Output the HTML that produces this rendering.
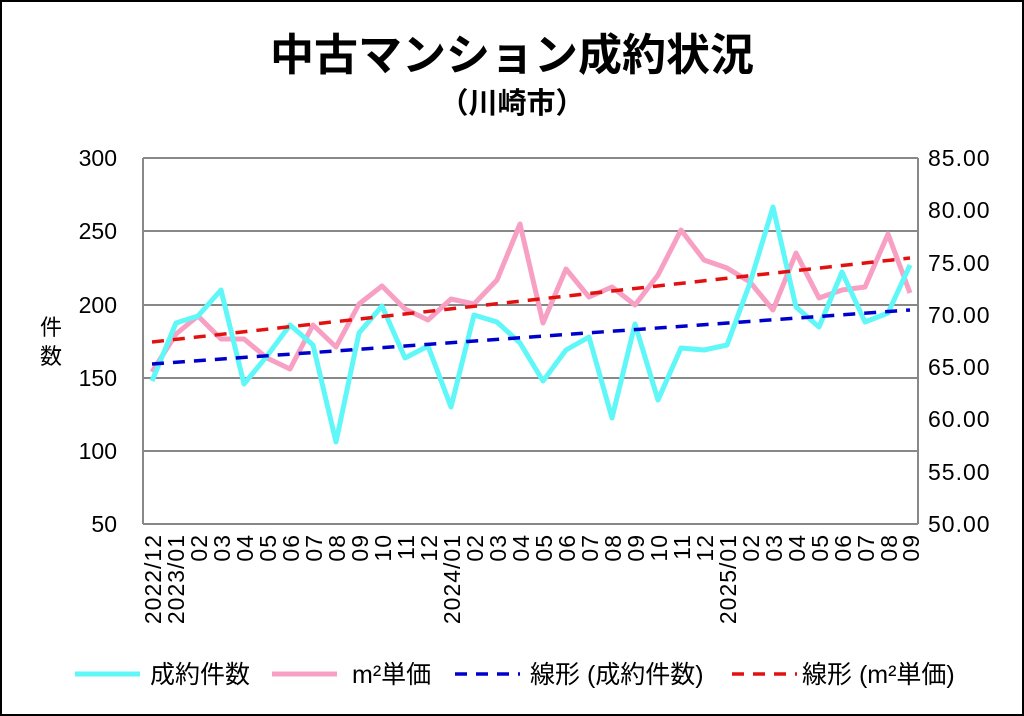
<!DOCTYPE html><html><head><meta charset="utf-8"><style>body{margin:0;background:#fff}svg{display:block}text{font-family:"Liberation Sans","Noto Sans CJK JP",sans-serif}</style></head><body>
<svg width="1024" height="716" viewBox="0 0 1024 716">
<rect x="1" y="1" width="1022" height="714" fill="#fff" stroke="#000" stroke-width="2"/>
<text x="512" y="70" text-anchor="middle" font-size="44" font-weight="bold" font-family="Noto Sans CJK JP">中古マンション成約状況</text>
<text x="512" y="113" text-anchor="middle" font-size="29" font-weight="bold" font-family="Noto Sans CJK JP">（川崎市）</text>
<g stroke="#888" stroke-width="2">
<line x1="143" y1="158" x2="918" y2="158"/><line x1="143" y1="231" x2="918" y2="231"/><line x1="143" y1="305" x2="918" y2="305"/><line x1="143" y1="378" x2="918" y2="378"/><line x1="143" y1="451" x2="918" y2="451"/><line x1="143" y1="524" x2="918" y2="524"/>
<line x1="143" y1="158" x2="143" y2="524"/><line x1="918" y1="158" x2="918" y2="524"/>
</g>
<g font-size="23" text-anchor="end"><text x="117" y="166">300</text><text x="117" y="239">250</text><text x="117" y="313">200</text><text x="117" y="386">150</text><text x="117" y="459">100</text><text x="117" y="532">50</text></g>
<g font-size="23" letter-spacing="1"><text x="928" y="166">85.00</text><text x="928" y="218">80.00</text><text x="928" y="271">75.00</text><text x="928" y="323">70.00</text><text x="928" y="375">65.00</text><text x="928" y="427">60.00</text><text x="928" y="480">55.00</text><text x="928" y="532">50.00</text></g>
<text x="40" y="335" font-size="22" font-family="Noto Sans CJK JP">件</text><text x="40" y="364" font-size="22" font-family="Noto Sans CJK JP">数</text>
<polyline fill="none" stroke="#f7a0c4" stroke-width="5" stroke-linejoin="round" points="152,372 176,334 198,316 221,339 244,339 267,358 290,369 313,325 336,347 359,304 382,286 405,309 428,320 451,299 474,304 497,280 520,224 543,323 566,269 589,297 612,287 635,305 658,275 681,230 704,260 727,268 750,282 773,310 796,253 819,298 842,290 865,287 888,234 910,293"/>
<polyline fill="none" stroke="#5ff7f7" stroke-width="5" stroke-linejoin="round" points="152,381 176,323 198,316 221,290 244,384 267,356 290,325 313,345 336,442 359,333 382,306 405,358 428,346 451,407 474,315 497,322 520,343 543,381 566,350 589,337 612,418 635,324 658,400 681,348 704,350 727,345 750,283 773,207 796,307 819,327 842,272 865,322 888,313 910,265"/>
<line x1="152" y1="364" x2="910" y2="310" stroke="#0000cc" stroke-width="3.5" stroke-dasharray="12,9"/>
<line x1="152" y1="342" x2="910" y2="258" stroke="#e31010" stroke-width="3.5" stroke-dasharray="12,9"/>
<g font-size="25" font-family="Noto Sans CJK JP">
<line x1="75" y1="674" x2="140" y2="674" stroke="#5ff7f7" stroke-width="5"/><text x="150" y="683">成約件数</text>
<line x1="272" y1="674" x2="337" y2="674" stroke="#f7a0c4" stroke-width="5"/><text x="352" y="683">m²単価</text>
<line x1="455" y1="674" x2="520" y2="674" stroke="#0000cc" stroke-width="3.5" stroke-dasharray="12,9"/><text x="530" y="683">線形 (成約件数)</text>
<line x1="732" y1="674" x2="797" y2="674" stroke="#e31010" stroke-width="3.5" stroke-dasharray="12,9"/><text x="802" y="683">線形 (m²単価)</text>
</g>
<g font-size="23" letter-spacing="1">
<text transform="translate(161,534) rotate(-90)" text-anchor="end">2022/12</text>
<text transform="translate(184,534) rotate(-90)" text-anchor="end">2023/01</text>
<text transform="translate(207,534) rotate(-90)" text-anchor="end">02</text>
<text transform="translate(230,534) rotate(-90)" text-anchor="end">03</text>
<text transform="translate(253,534) rotate(-90)" text-anchor="end">04</text>
<text transform="translate(276,534) rotate(-90)" text-anchor="end">05</text>
<text transform="translate(299,534) rotate(-90)" text-anchor="end">06</text>
<text transform="translate(322,534) rotate(-90)" text-anchor="end">07</text>
<text transform="translate(345,534) rotate(-90)" text-anchor="end">08</text>
<text transform="translate(368,534) rotate(-90)" text-anchor="end">09</text>
<text transform="translate(391,534) rotate(-90)" text-anchor="end">10</text>
<text transform="translate(414,534) rotate(-90)" text-anchor="end">11</text>
<text transform="translate(437,534) rotate(-90)" text-anchor="end">12</text>
<text transform="translate(460,534) rotate(-90)" text-anchor="end">2024/01</text>
<text transform="translate(483,534) rotate(-90)" text-anchor="end">02</text>
<text transform="translate(506,534) rotate(-90)" text-anchor="end">03</text>
<text transform="translate(529,534) rotate(-90)" text-anchor="end">04</text>
<text transform="translate(552,534) rotate(-90)" text-anchor="end">05</text>
<text transform="translate(575,534) rotate(-90)" text-anchor="end">06</text>
<text transform="translate(598,534) rotate(-90)" text-anchor="end">07</text>
<text transform="translate(621,534) rotate(-90)" text-anchor="end">08</text>
<text transform="translate(644,534) rotate(-90)" text-anchor="end">09</text>
<text transform="translate(667,534) rotate(-90)" text-anchor="end">10</text>
<text transform="translate(690,534) rotate(-90)" text-anchor="end">11</text>
<text transform="translate(713,534) rotate(-90)" text-anchor="end">12</text>
<text transform="translate(736,534) rotate(-90)" text-anchor="end">2025/01</text>
<text transform="translate(759,534) rotate(-90)" text-anchor="end">02</text>
<text transform="translate(782,534) rotate(-90)" text-anchor="end">03</text>
<text transform="translate(805,534) rotate(-90)" text-anchor="end">04</text>
<text transform="translate(828,534) rotate(-90)" text-anchor="end">05</text>
<text transform="translate(851,534) rotate(-90)" text-anchor="end">06</text>
<text transform="translate(874,534) rotate(-90)" text-anchor="end">07</text>
<text transform="translate(897,534) rotate(-90)" text-anchor="end">08</text>
<text transform="translate(919,534) rotate(-90)" text-anchor="end">09</text>
</g>
</svg></body></html>
